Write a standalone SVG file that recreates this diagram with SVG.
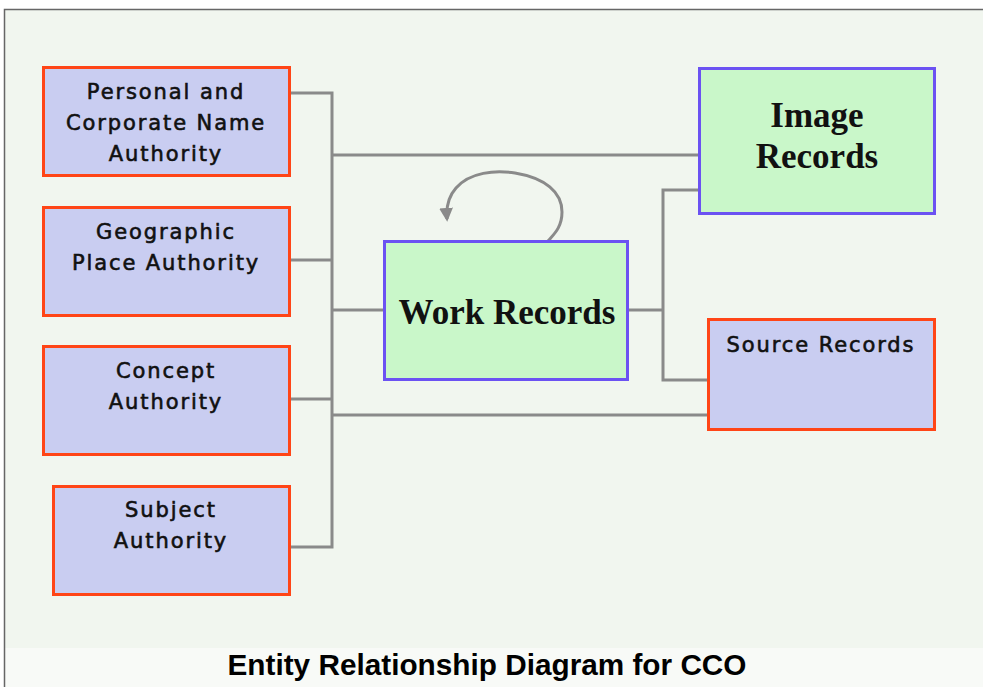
<svg xmlns="http://www.w3.org/2000/svg" width="983" height="687" viewBox="0 0 983 687">
<defs>
<style>
.auth{fill:#c9cdf1;stroke:#ff4517;stroke-width:3}
.rec{fill:#c9f7c9;stroke:#6b52f2;stroke-width:3}
.conn{fill:none;stroke:#8a8a8a;stroke-width:3}
.sans{font-family:"DejaVu Sans",Verdana,sans-serif;font-size:21px;fill:#111;stroke:#111;stroke-width:0.6;letter-spacing:1.9px;text-anchor:middle}
.serif{font-family:"Liberation Serif","Times New Roman",serif;font-size:35px;font-weight:bold;fill:#111;text-anchor:middle}
.title{font-family:"Liberation Sans",Arial,sans-serif;font-size:29px;font-weight:bold;fill:#000;text-anchor:middle}
</style>
<marker id="arr" viewBox="0 0 10 10" refX="8" refY="5" markerWidth="4.6" markerHeight="4.6" orient="auto" markerUnits="strokeWidth">
<path d="M0,0 L10,5 L0,10 z" fill="#8a8a8a"/>
</marker>
</defs>
<rect x="0" y="0" width="983" height="687" fill="#ffffff"/>
<rect x="4" y="9" width="979" height="678" fill="#f8faf7"/>
<rect x="4" y="9" width="979" height="639" fill="#f1f6ef"/>
<path d="M4.5,687 V9.5 H983" fill="none" stroke="#666" stroke-width="1.5"/>

<g id="connectors">
<path class="conn" d="M290,93 H332 V547 H290"/>
<path class="conn" d="M290,260 H332"/>
<path class="conn" d="M290,399 H332"/>
<path class="conn" d="M332,155 H698"/>
<path class="conn" d="M332,310 H384"/>
<path class="conn" d="M332,415 H708"/>
<path class="conn" d="M628,310 H663"/>
<path class="conn" d="M698,190 H663 V380 H708"/>
<path class="conn" d="M548,241 C553,235 562,228 562,212 C562,192 545,178 515,173 C495,170 470,172 456,188 C448,197 446,207 447,219" marker-end="url(#arr)"/>
</g>

<g id="personal">
<rect class="auth" x="43.5" y="67.5" width="246" height="108"/>
<text class="sans" x="166" y="99">Personal and</text>
<text class="sans" x="166" y="130">Corporate Name</text>
<text class="sans" x="166" y="161">Authority</text>
</g>
<g id="geographic">
<rect class="auth" x="43.5" y="207.5" width="246" height="108"/>
<text class="sans" x="166" y="239">Geographic</text>
<text class="sans" x="166" y="270">Place Authority</text>
</g>
<g id="concept">
<rect class="auth" x="43.5" y="346.5" width="246" height="108"/>
<text class="sans" x="166" y="378">Concept</text>
<text class="sans" x="166" y="409">Authority</text>
</g>
<g id="subject">
<rect class="auth" x="53.5" y="486.5" width="236" height="108"/>
<text class="sans" x="171" y="517">Subject</text>
<text class="sans" x="171" y="548">Authority</text>
</g>
<g id="work">
<rect class="rec" x="384.5" y="241.5" width="243" height="138"/>
<text class="serif" x="507" y="324">Work Records</text>
</g>
<g id="image">
<rect class="rec" x="699.5" y="68.5" width="235" height="145"/>
<text class="serif" x="817" y="127">Image</text>
<text class="serif" x="817" y="168">Records</text>
</g>
<g id="source">
<rect class="auth" x="708.5" y="319.5" width="226" height="110"/>
<text class="sans" x="821" y="352">Source Records</text>
</g>
<text class="title" x="487" y="675" textLength="519" lengthAdjust="spacingAndGlyphs">Entity Relationship Diagram for CCO</text>
</svg>
